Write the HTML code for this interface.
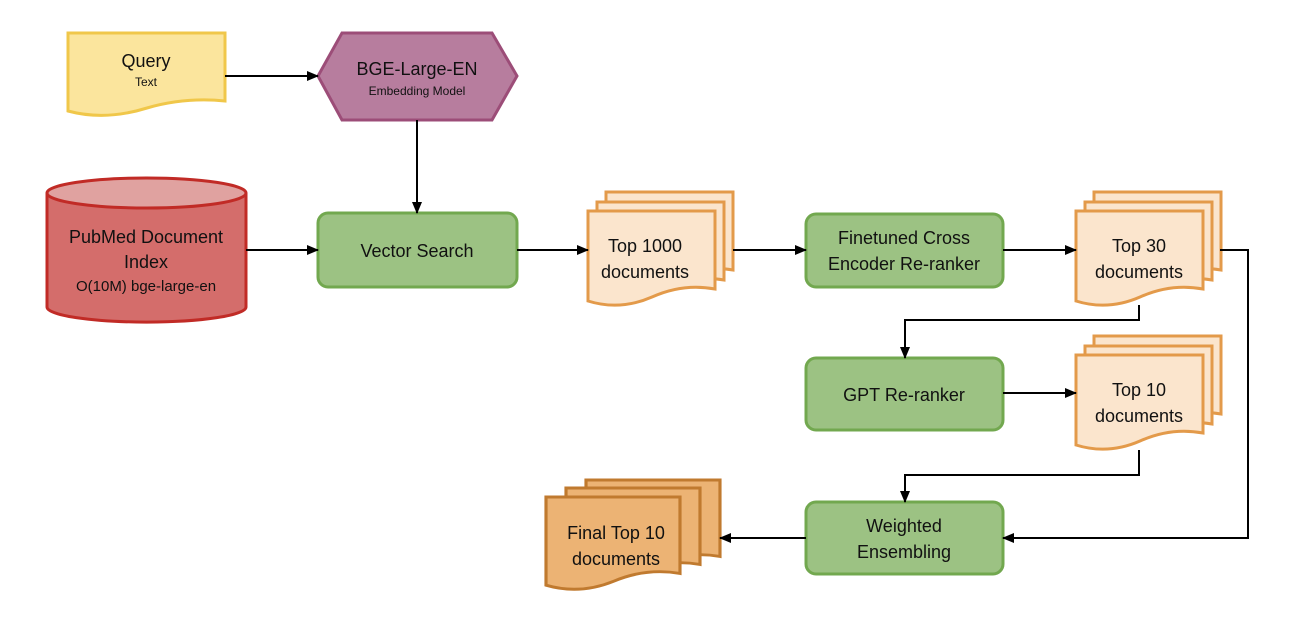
<!DOCTYPE html>
<html><head><meta charset="utf-8"><style>
html,body{margin:0;padding:0;background:#fff}
svg{display:block}
text{font-family:"Liberation Sans",sans-serif;fill:#111;text-anchor:middle}
</style></head><body>
<svg width="1312" height="620" viewBox="0 0 1312 620" xmlns="http://www.w3.org/2000/svg">
<defs>
<path id="doc" d="M0,0 H127 V78 Q95,72 64,86 Q32,100 0,90 Z"/>
<marker id="ah" markerWidth="12" markerHeight="10" refX="11" refY="5" orient="auto" markerUnits="userSpaceOnUse">
<path d="M0,0 L12,5 L0,10 Z" fill="#000"/></marker>
</defs>

<!-- Query -->
<path d="M68,33 H225 V101 Q185,97 147,108 Q105,121 68,111 Z" fill="#fbe59d" stroke="#f0c74a" stroke-width="3"/>
<text x="146" y="67" font-size="18">Query</text>
<text x="146" y="86" font-size="12">Text</text>

<!-- Hexagon -->
<path d="M342,33 H492 L517,76 L492,120 H342 L318,76 Z" fill="#b77d9e" stroke="#9c4d78" stroke-width="3"/>
<text x="417" y="75" font-size="18">BGE-Large-EN</text>
<text x="417" y="95" font-size="12">Embedding Model</text>

<!-- Cylinder -->
<path d="M47,193 V307 A99,15 0 0 0 246,307 V193" fill="#d46d6b" stroke="#c12b26" stroke-width="3"/>
<ellipse cx="146.5" cy="193" rx="99.5" ry="15" fill="#e0a2a0" stroke="#c12b26" stroke-width="3"/>
<text x="146" y="243" font-size="18">PubMed Document</text>
<text x="146" y="268" font-size="18">Index</text>
<text x="146" y="291" font-size="15">O(10M) bge-large-en</text>

<!-- Green boxes -->
<g fill="#9cc283" stroke="#72a84f" stroke-width="3">
<rect x="318" y="213" width="199" height="74" rx="10"/>
<rect x="806" y="214" width="197" height="73" rx="10"/>
<rect x="806" y="358" width="197" height="72" rx="10"/>
<rect x="806" y="502" width="197" height="72" rx="10"/>
</g>
<text x="417" y="257" font-size="18">Vector Search</text>
<text x="904" y="244" font-size="18">Finetuned Cross</text>
<text x="904" y="270" font-size="18">Encoder Re-ranker</text>
<text x="904" y="401" font-size="18">GPT Re-ranker</text>
<text x="904" y="532" font-size="18">Weighted</text>
<text x="904" y="558" font-size="18">Ensembling</text>

<!-- Doc stacks -->
<g fill="#fbe5cd" stroke="#e39a4a" stroke-width="3">
<use href="#doc" x="606" y="192"/><use href="#doc" x="597" y="202"/><use href="#doc" x="588" y="211"/>
<use href="#doc" x="1094" y="192"/><use href="#doc" x="1085" y="202"/><use href="#doc" x="1076" y="211"/>
<use href="#doc" x="1094" y="336"/><use href="#doc" x="1085" y="346"/><use href="#doc" x="1076" y="355"/>
</g>
<g fill="#ecb374" stroke="#c07a2f" stroke-width="3">
<use href="#doc" transform="translate(586,480) scale(1.055,0.98)"/>
<use href="#doc" transform="translate(566,488) scale(1.055,0.98)"/>
<use href="#doc" transform="translate(546,497) scale(1.055,0.98)"/>
</g>
<text x="645" y="252" font-size="18">Top 1000</text>
<text x="645" y="278" font-size="18">documents</text>
<text x="1139" y="252" font-size="18">Top 30</text>
<text x="1139" y="278" font-size="18">documents</text>
<text x="1139" y="396" font-size="18">Top 10</text>
<text x="1139" y="422" font-size="18">documents</text>
<text x="616" y="539" font-size="18">Final Top 10</text>
<text x="616" y="565" font-size="18">documents</text>

<!-- Connectors -->
<g stroke="#000" stroke-width="2" fill="none" marker-end="url(#ah)">
<path d="M225,76 H318"/>
<path d="M417,120 V213"/>
<path d="M246,250 H318"/>
<path d="M517,250 H588"/>
<path d="M733,250 H806"/>
<path d="M1003,250 H1076"/>
<path d="M1220,250 H1248 V538 H1003"/>
<path d="M1139,305 V320 H905 V358"/>
<path d="M1003,393 H1076"/>
<path d="M1139,450 V475 H905 V502"/>
<path d="M806,538 H720"/>
</g>
</svg>
</body></html>
